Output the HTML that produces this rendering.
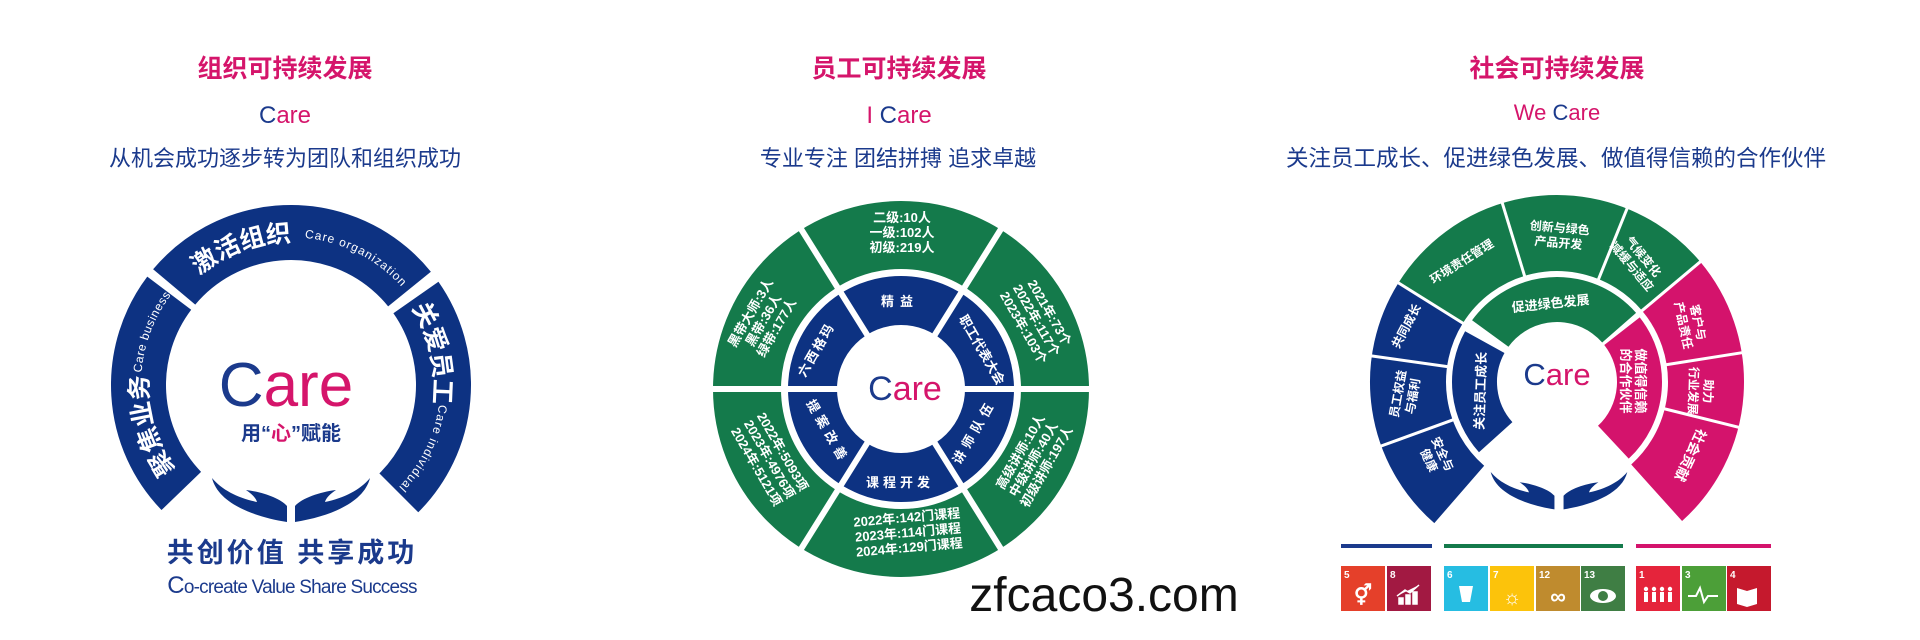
<!DOCTYPE html>
<html><head><meta charset="utf-8"><style>
html,body{margin:0;padding:0;background:#fff;width:1920px;height:640px;overflow:hidden}
svg{display:block}
.cj{font-family:"Liberation Sans","Noto Sans CJK SC",sans-serif}
</style></head><body>
<svg width="1920" height="640" viewBox="0 0 1920 640" xmlns="http://www.w3.org/2000/svg" class="cj">
<defs>
<path id="lt" d="M167.2,313.5 A143,143 0 0,1 414.8,313.5"/>
<path id="lte" d="M163.1,310.9 A148,148 0 0,1 419,310.9"/>
<path id="ll" d="M189.9,486.1 A143,143 0 0,1 173.9,303"/>
<path id="lle" d="M185,491 A150,150 0 0,1 184.9,278.9"/>
<path id="lr" d="M408.1,303 A143,143 0 0,1 382.9,494.5"/>
<path id="lre" d="M413.9,299.8 A148,148 0 0,1 365,513.2"/>
<g id="hand"><path d="M-78,0 C-72,24 -40,38 -3,44 L-3,28 C-10,20 -28,14 -44,12 C-38,16 -34,20 -33,24 C-52,20 -68,12 -78,0 Z" fill="#0d3282"/></g>
<g id="person"><circle cx="0" cy="-9" r="2.2" fill="#fff"/><rect x="-2" y="-6" width="4" height="10" fill="#fff"/></g>
</defs>

<!-- ============ LEFT PANEL ============ -->
<text x="285" y="77" text-anchor="middle" font-size="25" font-weight="700" fill="#d5156b">组织可持续发展</text>
<text x="285" y="123" text-anchor="middle" font-size="24"><tspan fill="#1b3a8c">C</tspan><tspan fill="#d5156b">are</tspan></text>
<text x="285" y="166" text-anchor="middle" font-size="22" fill="#1b3a8c">从机会成功逐步转为团队和组织成功</text>

<g fill="none" stroke="#0d3282" stroke-width="55">
<circle cx="291" cy="385" r="152.5" pathLength="360" stroke-dasharray="101 360" transform="rotate(-140 291 385)"/>
<circle cx="291" cy="385" r="152.5" pathLength="360" stroke-dasharray="81 360" transform="rotate(136 291 385)"/>
<circle cx="291" cy="385" r="152.5" pathLength="360" stroke-dasharray="80 360" transform="rotate(-35 291 385)"/>
</g>
<text font-size="25" font-weight="700" fill="#fff"><textPath href="#lt" startOffset="50">激活组织</textPath></text>
<text font-size="12" fill="#fff" letter-spacing="1"><textPath href="#lte" startOffset="168">Care  organization</textPath></text>
<text font-size="25" font-weight="700" fill="#fff"><textPath href="#ll" startOffset="22">聚焦业务</textPath></text>
<text font-size="12" fill="#fff" letter-spacing="0.6"><textPath href="#lle" startOffset="130">Care  business</textPath></text>
<text font-size="25" font-weight="700" fill="#fff"><textPath href="#lr" startOffset="6">关爱员工</textPath></text>
<text font-size="12" fill="#fff" letter-spacing="1"><textPath href="#lre" startOffset="110">Care  individual</textPath></text>

<text x="286" y="406" text-anchor="middle" font-size="62"><tspan fill="#1b3a8c">C</tspan><tspan fill="#d5156b">are</tspan></text>
<text x="291" y="440" text-anchor="middle" font-size="20" font-weight="700" fill="#1b3a8c">用“<tspan fill="#d5156b">心</tspan>”赋能</text>
<use href="#hand" transform="translate(290,478)"/>
<use href="#hand" transform="translate(292,478) scale(-1,1)"/>
<text x="292" y="562" text-anchor="middle" font-size="27" font-weight="700" fill="#1b3a8c" letter-spacing="3">共创价值  共享成功</text>
<text x="292" y="593" text-anchor="middle" font-size="19" fill="#1b3a8c" letter-spacing="-0.8"><tspan font-size="24">C</tspan>o-create Value  Share Success</text>

<!-- ============ MIDDLE PANEL ============ -->
<text x="899" y="77" text-anchor="middle" font-size="25" font-weight="700" fill="#d5156b">员工可持续发展</text>
<text x="899" y="123" text-anchor="middle" font-size="24"><tspan fill="#d5156b">I </tspan><tspan fill="#1b3a8c">C</tspan><tspan fill="#d5156b">are</tspan></text>
<text x="898" y="166" text-anchor="middle" font-size="22" fill="#1b3a8c">专业专注  团结拼搏  追求卓越</text>

<circle cx="901" cy="389" r="154" fill="none" stroke="#147a4b" stroke-width="68"/>
<circle cx="901" cy="389" r="88.5" fill="none" stroke="#0d3282" stroke-width="49"/>
<g stroke="#fff" stroke-width="6">
<line x1="950" y1="389" x2="1095" y2="389"/>
<line x1="852" y1="389" x2="705" y2="389"/>
<g transform="rotate(-58 901 389)"><line x1="950" y1="389" x2="1095" y2="389"/></g>
<g transform="rotate(-122 901 389)"><line x1="950" y1="389" x2="1095" y2="389"/></g>
<g transform="rotate(58 901 389)"><line x1="950" y1="389" x2="1095" y2="389"/></g>
<g transform="rotate(122 901 389)"><line x1="950" y1="389" x2="1095" y2="389"/></g>
</g>
<g font-size="13" font-weight="700" fill="#fff" text-anchor="middle">
<text x="902" y="222">二级:10人</text><text x="902" y="237">一级:102人</text><text x="902" y="252">初级:219人</text>
<g transform="translate(763,320) rotate(-60)"><text x="0" y="-10">黑带大师:3人</text><text x="0" y="5">黑带:36人</text><text x="0" y="20">绿带:177人</text></g>
<g transform="translate(1037,320) rotate(60)"><text x="0" y="-10">2021年:73个</text><text x="0" y="5">2022年:117个</text><text x="0" y="20">2023年:103个</text></g>
<g transform="translate(1033,459) rotate(-60)"><text x="0" y="-10">高级讲师:10人</text><text x="0" y="5">中级讲师:40人</text><text x="0" y="20">初级讲师:197人</text></g>
<g transform="translate(770,459) rotate(60)"><text x="0" y="-10">2022年:5093项</text><text x="0" y="5">2023年:4976项</text><text x="0" y="20">2024年:5121项</text></g>
<g transform="translate(908,532) rotate(-5)"><text x="0" y="-10">2022年:142门课程</text><text x="0" y="5">2023年:114门课程</text><text x="0" y="20">2024年:129门课程</text></g>
</g>
<g font-size="13" font-weight="700" fill="#fff" text-anchor="middle" letter-spacing="2">
<text x="900" y="306" letter-spacing="6">精益</text>
<text x="900" y="487" letter-spacing="4">课程开发</text>
<text transform="translate(820,352) rotate(-60)" x="0" y="0">六西格玛</text>
<text transform="translate(978,352) rotate(60)" x="0" y="0" letter-spacing="0">职工代表大会</text>
<text transform="translate(978,434) rotate(-60)" x="0" y="0" letter-spacing="5">讲师队伍</text>
<text transform="translate(824,434) rotate(60)" x="0" y="0" letter-spacing="5">提案改善</text>
</g>
<text x="905" y="400" text-anchor="middle" font-size="34"><tspan fill="#1b3a8c">C</tspan><tspan fill="#d5156b">are</tspan></text>
<text x="1104" y="611" text-anchor="middle" font-size="48" fill="#111" font-family="Liberation Sans,sans-serif">zfcaco3.com</text>

<!-- ============ RIGHT PANEL ============ -->
<text x="1557" y="77" text-anchor="middle" font-size="25" font-weight="700" fill="#d5156b">社会可持续发展</text>
<text x="1557" y="120" text-anchor="middle" font-size="22"><tspan fill="#d5156b">We  </tspan><tspan fill="#1b3a8c">C</tspan><tspan fill="#d5156b">are</tspan></text>
<text x="1556" y="166" text-anchor="middle" font-size="22.5" fill="#1b3a8c">关注员工成长、促进绿色发展、做值得信赖的合作伙伴</text>

<g fill="none" stroke-width="76">
<circle cx="1557" cy="382" r="149" stroke="#0d3282" pathLength="360" stroke-dasharray="81 360" transform="rotate(-229 1557 382)"/>
<circle cx="1557" cy="382" r="149" stroke="#147a4b" pathLength="360" stroke-dasharray="108 360" transform="rotate(-148 1557 382)"/>
<circle cx="1557" cy="382" r="149" stroke="#d4136c" pathLength="360" stroke-dasharray="88 360" transform="rotate(-40 1557 382)"/>
</g>
<g fill="none" stroke-width="45">
<circle cx="1557" cy="382" r="82.5" stroke="#0d3282" pathLength="360" stroke-dasharray="71 360" transform="rotate(-222 1557 382)"/>
<circle cx="1557" cy="382" r="82.5" stroke="#147a4b" pathLength="360" stroke-dasharray="103 360" transform="rotate(-144 1557 382)"/>
<circle cx="1557" cy="382" r="82.5" stroke="#d4136c" pathLength="360" stroke-dasharray="85 360" transform="rotate(-38 1557 382)"/>
</g>
<g stroke="#fff" stroke-width="3">
<g transform="rotate(-148 1557 382)"><line x1="1665" y1="382" x2="1750" y2="382"/></g>
<g transform="rotate(-172 1557 382)"><line x1="1665" y1="382" x2="1750" y2="382"/></g>
<g transform="rotate(-200 1557 382)"><line x1="1665" y1="382" x2="1750" y2="382"/></g>
<g transform="rotate(-107 1557 382)"><line x1="1665" y1="382" x2="1750" y2="382"/></g>
<g transform="rotate(-68 1557 382)"><line x1="1665" y1="382" x2="1750" y2="382"/></g>
<g transform="rotate(-40 1557 382)"><line x1="1665" y1="382" x2="1750" y2="382"/></g>
<g transform="rotate(-9 1557 382)"><line x1="1665" y1="382" x2="1750" y2="382"/></g>
<g transform="rotate(14 1557 382)"><line x1="1665" y1="382" x2="1750" y2="382"/></g>
</g>
<g font-size="12" font-weight="700" fill="#fff" text-anchor="middle">
<text transform="translate(1410,328) rotate(-62)">共同成长</text>
<g transform="translate(1405,395) rotate(-80)"><text y="-3">员工权益</text><text y="12">与福利</text></g>
<g transform="translate(1436,457) rotate(-115)"><text y="-3" transform="rotate(180)">安全与</text><text y="12" transform="rotate(180)">健康</text></g>
<text transform="translate(1464,265) rotate(-32)">环境责任管理</text>
<g transform="translate(1559,236) rotate(5)"><text y="-4">创新与绿色</text><text y="11">产品开发</text></g>
<g transform="translate(1637,262) rotate(50)"><text y="-4">气候变化</text><text y="11">减缓与适应</text></g>
<g transform="translate(1690,324) rotate(78)"><text y="-4">客户与</text><text y="11">产品责任</text></g>
<g transform="translate(1700,391) rotate(92)"><text y="-4">助力</text><text y="11">行业发展</text></g>
<text transform="translate(1686,453) rotate(115)" font-size="14">社会贡献</text>
<text transform="translate(1551,308) rotate(-6)" font-size="13">促进绿色发展</text>
<text transform="translate(1485,391) rotate(-88)" font-size="13">关注员工成长</text>
<g transform="translate(1632,381) rotate(90)" font-size="13"><text y="-4">做值得信赖</text><text y="11">的合作伙伴</text></g>
</g>
<text x="1557" y="385" text-anchor="middle" font-size="31"><tspan fill="#1b3a8c">C</tspan><tspan fill="#d5156b">are</tspan></text>
<use href="#hand" transform="translate(1557,472) scale(0.85)"/>
<use href="#hand" transform="translate(1561,472) scale(-0.85,0.85)"/>

<rect x="1341" y="544" width="91" height="4" fill="#1b3a8c"/>
<rect x="1444" y="544" width="179" height="4" fill="#147a4b"/>
<rect x="1636" y="544" width="135" height="4" fill="#d4136c"/>
<g font-size="10" font-weight="700" fill="#fff" font-family="Liberation Sans,sans-serif">
<rect x="1341" y="566" width="44" height="45" fill="#e5402a"/><text x="1344" y="578">5</text><text x="1363" y="602" font-size="20" text-anchor="middle">⚥</text>
<rect x="1387" y="566" width="44" height="45" fill="#a21942"/><text x="1390" y="578">8</text><path d="M1399,604 v-6 h4 v6 z M1406,604 v-9 h4 v9 z M1413,604 v-12 h4 v12 z M1397,596 l8,-6 l5,3 l9,-8" fill="#fff" stroke="#fff" stroke-width="1.5"/>
<rect x="1444" y="566" width="44" height="45" fill="#26bde2"/><text x="1447" y="578">6</text><path d="M1459,586 h14 l-3,16 h-8 z" fill="#fff"/>
<rect x="1490" y="566" width="44" height="45" fill="#fcc30b"/><text x="1493" y="578">7</text><text x="1512" y="604" font-size="20" text-anchor="middle">☼</text>
<rect x="1536" y="566" width="44" height="45" fill="#bf8b2e"/><text x="1539" y="578">12</text><text x="1558" y="604" font-size="22" text-anchor="middle">∞</text>
<rect x="1581" y="566" width="44" height="45" fill="#3f7e44"/><text x="1584" y="578">13</text><ellipse cx="1603" cy="596" rx="13" ry="7" fill="#fff"/><circle cx="1603" cy="596" r="5" fill="#3f7e44"/>
<rect x="1636" y="566" width="44" height="45" fill="#e5243b"/><text x="1639" y="578">1</text>
<use href="#person" transform="translate(1646,598)"/><use href="#person" transform="translate(1654,598)"/><use href="#person" transform="translate(1662,598)"/><use href="#person" transform="translate(1670,598)"/>
<rect x="1682" y="566" width="44" height="45" fill="#4c9f38"/><text x="1685" y="578">3</text><path d="M1688,596 h8 l4,-8 l4,14 l4,-6 h10" stroke="#fff" stroke-width="2" fill="none"/>
<rect x="1727" y="566" width="44" height="45" fill="#c5192d"/><text x="1730" y="578">4</text><path d="M1737,588 l10,3 l10,-3 v16 l-10,3 l-10,-3 z" fill="#fff"/>
</g>
</svg>
</body></html>
